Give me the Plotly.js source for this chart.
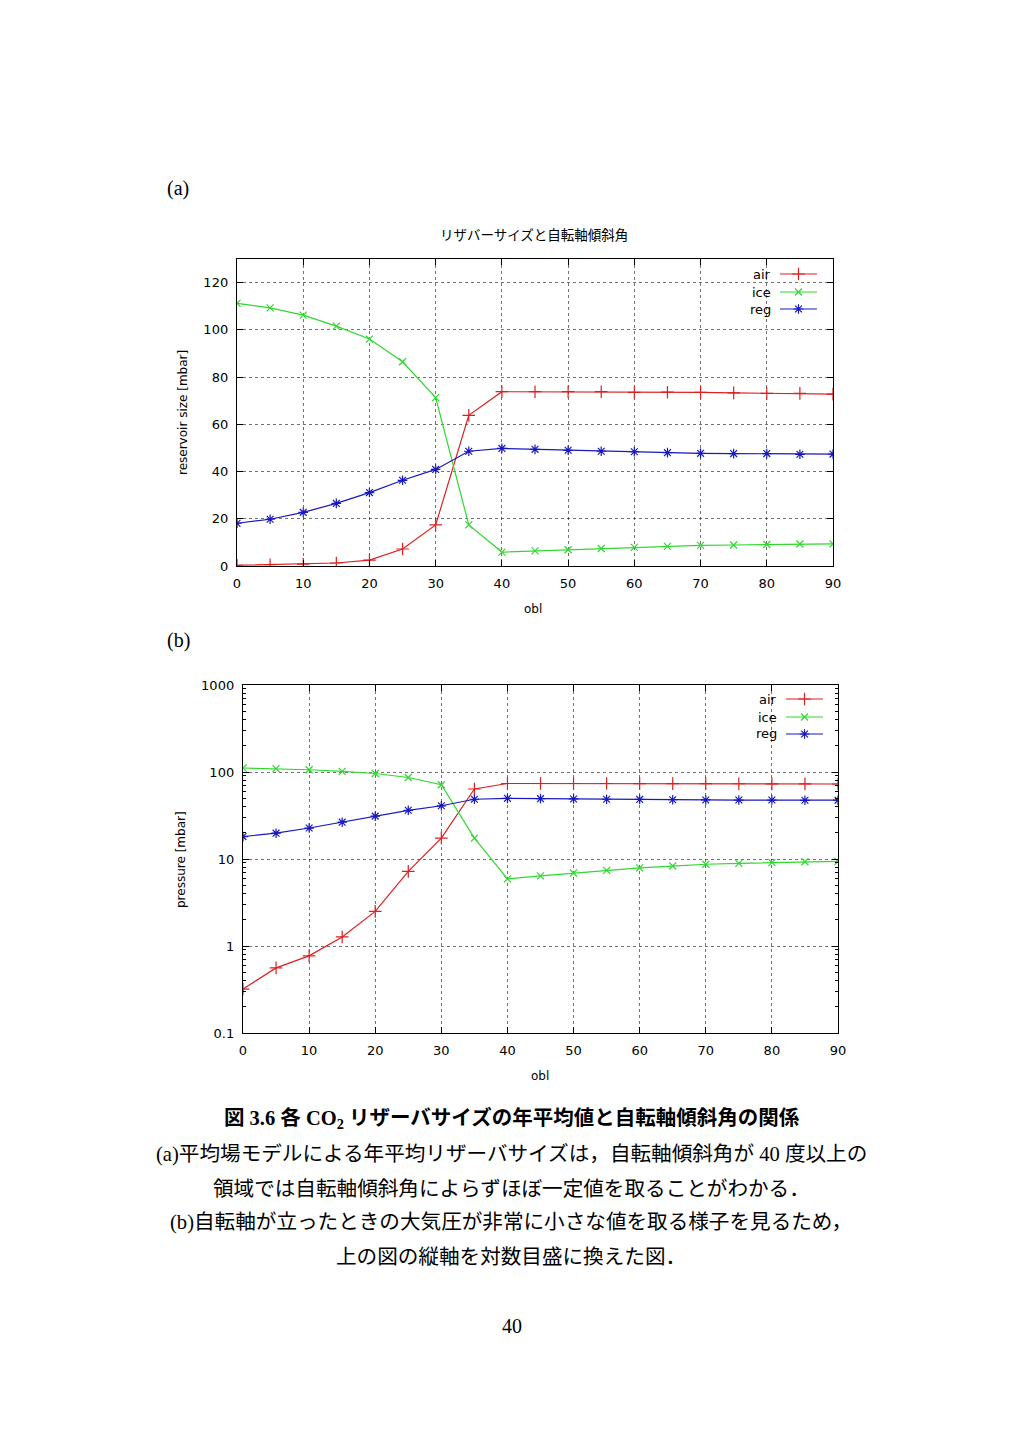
<!DOCTYPE html>
<html>
<head>
<meta charset="utf-8">
<script src="https://cdn.plot.ly/plotly-3.0.1.min.js"></script>
<style>
html,body{margin:0;padding:0;background:#fff;}
#page{width:1024px;height:1448px;}
</style>
</head>
<body>
<div id="page"></div>
<script>
// ---- data ----
const obl = [0,5,10,15,20,25,30,35,40,45,50,55,60,65,70,75,80,85,90];
const air = [0.32,0.56,0.77,1.27,2.5,7.2,17.4,63.8,73.8,73.8,73.8,73.8,73.5,73.6,73.5,73.3,73.1,73.1,72.8];
const ice = [111.2,109.3,106.2,101.6,96.1,86.5,71.3,17.4,5.9,6.4,6.9,7.4,7.9,8.3,8.7,8.9,9.1,9.3,9.4];
const reg = [18.1,19.8,22.7,26.5,31.1,36.3,40.9,48.6,49.8,49.4,49.0,48.6,48.4,48.0,47.7,47.6,47.6,47.3,47.4];
const seriesNames = ["air","ice","reg"];
const xTicks = [0,10,20,30,40,50,60,70,80,90];
const yTicksLin = [0,20,40,60,80,100,120];
const yTicksLog = [0.1,1,10,100,1000];
const yTickTextLog = ["0.1","1","10","100","1000"];

const chartTitle = "リザバーサイズと自転軸傾斜角";
const yTitleA = "reservoir size [mbar]";
const yTitleB = "pressure [mbar]";
const xTitle = "obl";
const captionTitle = "図 3.6 各 CO<sub>2</sub> リザーバサイズの年平均値と自転軸傾斜角の関係";
const captionLines = [
  "(a)平均場モデルによる年平均リザーバサイズは，自転軸傾斜角が 40 度以上の",
  "領域では自転軸傾斜角によらずほぼ一定値を取ることがわかる．",
  "(b)自転軸が立ったときの大気圧が非常に小さな値を取る様子を見るため，",
  "上の図の縦軸を対数目盛に換えた図．"
];
const pageNumber = "40";

// ---- helpers ----
const W = 1024, H = 1448;
const px = x => x / W;
const py = y => 1 - y / H;

const colors = {air:"#dc2020", ice:"#30d830", reg:"#1818c0"};
const symbols = {air:"cross-thin", ice:"x-thin", reg:"asterisk-open"};
const sizes = {air:9, ice:7, reg:8};
const vals = {air:air, ice:ice, reg:reg};

const chartFont = "DejaVu Sans, Verdana, sans-serif";
const serifFont = "Liberation Serif, Times New Roman, Noto Sans CJK JP, serif";

const traces = [];
[["x","y","legend"],["x2","y2","legend2"]].forEach(([xa,ya,lg]) => {
  seriesNames.forEach(n => {
    traces.push({
      x: obl, y: vals[n], name: " ", type: "scatter", mode: "lines+markers",
      xaxis: xa, yaxis: ya, legend: lg,
      line: {color: colors[n], width: 1.2},
      marker: {symbol: symbols[n], size: sizes[n], color: colors[n],
               line: {color: colors[n], width: 1.2}},
      hoverinfo: "x+y"
    });
  });
});

const gridStyle = {
  showgrid: true, gridcolor: "rgba(0,0,0,0.55)", gridwidth: 1, griddash: "dot",
  showline: true, linecolor: "#000", linewidth: 1.2, mirror: "ticks",
  ticks: "inside", ticklen: 6, tickcolor: "#000", tickwidth: 1,
  zeroline: false, ticklabelstandoff: 5,
  tickfont: {family: chartFont, size: 13, color: "#000"}
};

const legendFont = {family: chartFont, size: 13, color: "#000"};
const layout = {
  width: W, height: H,
  margin: {l:0, r:0, t:0, b:0},
  paper_bgcolor: "#fff", plot_bgcolor: "#fff",
  showlegend: true,
  xaxis: Object.assign({}, gridStyle, {
    domain: [px(237), px(833)], range: [0, 90], tickvals: xTicks, anchor: "y"
  }),
  yaxis: Object.assign({}, gridStyle, {
    domain: [py(566), py(259)], range: [0, 130], tickvals: yTicksLin, anchor: "x"
  }),
  xaxis2: Object.assign({}, gridStyle, {
    domain: [px(243), px(838)], range: [0, 90], tickvals: xTicks, anchor: "y2"
  }),
  yaxis2: Object.assign({}, gridStyle, {
    domain: [py(1033), py(685)], type: "log", range: [-1, 3],
    tickvals: yTicksLog, ticktext: yTickTextLog, anchor: "x2",
    minor: {ticks: "inside", ticklen: 3, tickcolor: "#000", dtick: "D1", showgrid: false}
  }),
  legend: {x: px(774), xanchor: "left", y: py(262), yanchor: "top",
           bgcolor: "rgba(0,0,0,0)", font: legendFont, tracegroupgap: 0},
  legend2: {x: px(780), xanchor: "left", y: py(687), yanchor: "top",
           bgcolor: "rgba(0,0,0,0)", font: legendFont, tracegroupgap: 0},
  annotations: []
};

const A = layout.annotations;
function note(text, x, y, opts) {
  A.push(Object.assign({text: text, xref: "paper", yref: "paper", x: px(x), y: py(y),
    xanchor: "center", yanchor: "middle", showarrow: false,
    font: {family: chartFont, size: 13, color: "#000"}}, opts || {}));
}
// panel labels
note("(a)", 178, 189, {font: {family: serifFont, size: 20, color: "#000"}});
note("(b)", 178, 640, {font: {family: serifFont, size: 20, color: "#000"}});
// chart title
note(chartTitle, 534, 234, {font: {family: "Noto Sans CJK JP, sans-serif", size: 13.5, color: "#000"}});
// axis titles
note(yTitleA, 183, 413, {textangle: -90, font: {family: chartFont, size: 12, color: "#000"}});
note(xTitle, 533, 609, {font: {family: chartFont, size: 12, color: "#000"}});
note(yTitleB, 181, 860, {textangle: -90, font: {family: chartFont, size: 12, color: "#000"}});
note(xTitle, 540, 1076, {font: {family: chartFont, size: 12, color: "#000"}});
// legend labels (left of the samples, as in the reference)
const legendRows = [{rows: [274, 292, 309], lineStart: 780, textRight: 773},
                    {rows: [699, 717, 734], lineStart: 786, textRight: 779}];
legendRows.forEach(cfg => seriesNames.forEach((n, i) =>
  note(n, cfg.textRight, cfg.rows[i], {xanchor: "right", font: legendFont})));
// caption
note("<b>" + captionTitle + "</b>", 512, 1119, {font: {family: serifFont, size: 20.5, color: "#000"}});
const capY = [1154, 1189, 1222, 1257];
captionLines.forEach((t, i) => note(t, 511, capY[i], {font: {family: serifFont, size: 20.6, color: "#000"}}));
note(pageNumber, 512, 1326, {font: {family: serifFont, size: 20, color: "#000"}});

const lineLen = 37;
const gd = document.getElementById("page");
function arrangeLegends() {
  const origin = gd.getBoundingClientRect();
  const groups = Array.from(gd.querySelectorAll("g.infolayer > g")).filter(g => g.querySelector("g.traces"));
  groups.sort((a, b) => a.getBoundingClientRect().top - b.getBoundingClientRect().top);
  groups.forEach((lg, gi) => {
    const cfg = legendRows[gi];
    if (!cfg) return;
    lg.querySelectorAll("[clip-path]").forEach(e => e.removeAttribute("clip-path"));
    lg.querySelectorAll("g.traces").forEach((el, i) => {
      const m = el.parentNode.getScreenCTM();
      const parentX = m.e - origin.left, parentY = m.f - origin.top;
      el.setAttribute("transform",
        "translate(" + (cfg.lineStart - 5 - parentX) + "," + (cfg.rows[i] - parentY) + ")");
      el.querySelectorAll(".legendlines path").forEach(p => p.setAttribute("d", "M5,0h" + lineLen));
      el.querySelectorAll(".legendpoints path.scatterpts").forEach(p =>
        p.setAttribute("transform", "translate(" + (5 + lineLen / 2) + ",0)"));
    });
  });
  // drop empty placeholder texts (blank legend names, empty legend titles)
  gd.querySelectorAll("svg text").forEach(t => { if (!t.textContent.trim()) t.remove(); });
}
Plotly.newPlot(gd, traces, layout, {staticPlot: true}).then(() => {
  arrangeLegends();
  requestAnimationFrame(arrangeLegends);
});
</script>
</body>
</html>
